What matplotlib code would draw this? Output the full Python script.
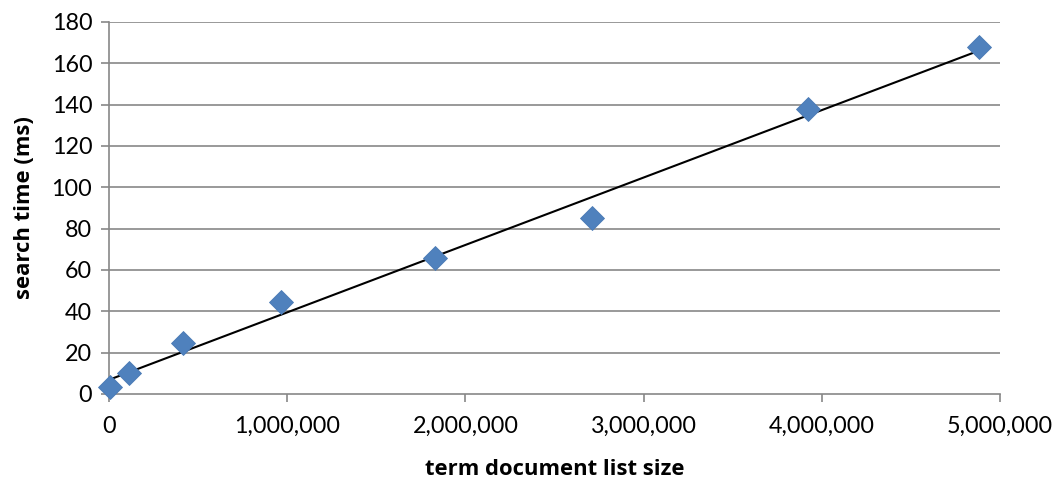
import matplotlib
matplotlib.use("Agg")
import matplotlib.pyplot as plt
import numpy as np
from matplotlib.ticker import FuncFormatter, MultipleLocator

plt.rcParams['font.family'] = ['Lato', 'DejaVu Sans']

list_size = [5000, 115000, 415000, 965000, 1830000, 2710000, 3920000, 4880000]
search_ms = [3.2, 10.2, 24.7, 44.3, 65.6, 85.1, 137.9, 168.0]

x = np.array(list_size, dtype=float)
y = np.array(search_ms, dtype=float)
slope, intercept = np.polyfit(x, y, 1)

fig = plt.figure(figsize=(10.61, 4.82), dpi=100)
ax = fig.add_axes([0.1027, 0.1826, 0.8398, 0.7718])

grid_col = '#878787'
for v in range(20, 181, 20):
    ax.axhline(v, color=grid_col, lw=1.2, zorder=1)

xl = np.array([0, x.max()])
ax.plot(xl, slope * xl + intercept, color='black', lw=1.5, zorder=3)
ax.plot(x, y, linestyle='none', marker='D', ms=12.5, color='#4F81BD',
        markeredgecolor='#4A7AB5', markeredgewidth=0.6, zorder=4, clip_on=False)

ax.set_xlim(0, 5000000)
ax.set_ylim(0, 180)
ax.xaxis.set_major_locator(MultipleLocator(1000000))
ax.yaxis.set_major_locator(MultipleLocator(20))
ax.xaxis.set_major_formatter(FuncFormatter(lambda v, p: f"{int(v):,}"))

for s in ['top', 'right']:
    ax.spines[s].set_visible(False)
for s in ['left', 'bottom']:
    ax.spines[s].set_color(grid_col)
    ax.spines[s].set_linewidth(1.2)
ax.tick_params(axis='both', direction='out', length=6, width=1.2, color=grid_col,
               labelsize=16.8, labelcolor='black')
ax.tick_params(axis='x', pad=10)
ax.tick_params(axis='y', pad=6)

lab_font = dict(family=['Open Sans', 'DejaVu Sans'], fontsize=15.8, fontweight='bold')
ax.set_xlabel('term document list size', labelpad=16, **lab_font)
ax.set_ylabel('search time (ms)', labelpad=12, **lab_font)

fig.savefig('out.png', dpi=100)
